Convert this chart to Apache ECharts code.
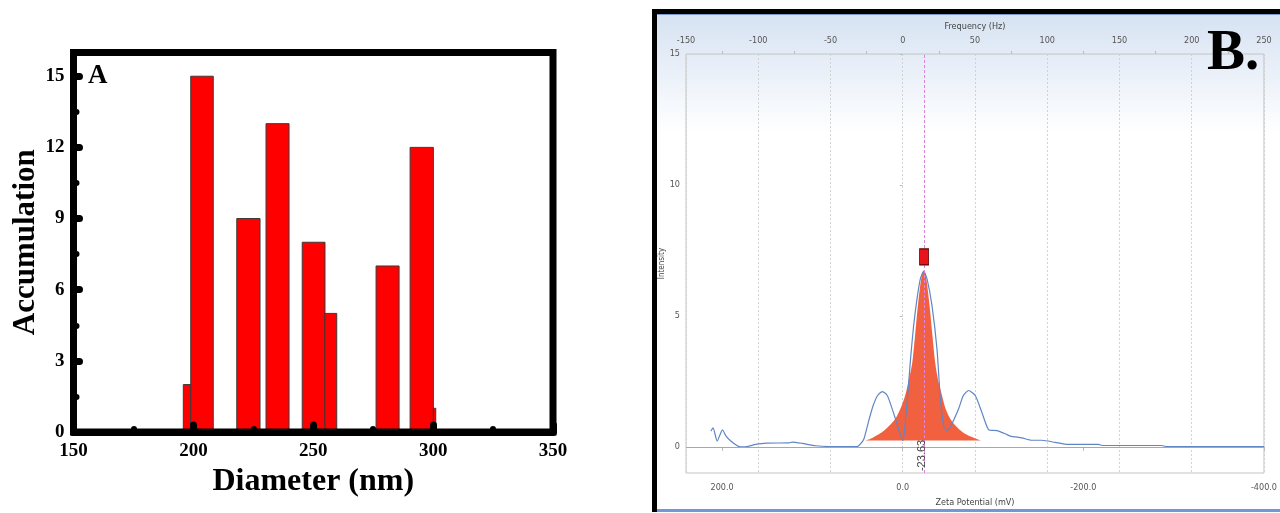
<!DOCTYPE html>
<html>
<head>
<meta charset="utf-8">
<script src="https://cdn.jsdelivr.net/npm/echarts@6/dist/echarts.min.js"></script>
<style>
html, body { margin: 0; padding: 0; background: #fff; }
#main { width: 1280px; height: 513px; }
</style>
</head>
<body>
<div id="main"></div>
<script>
// A: particle size histogram (bin edges in nm, counts)
var binStart = [195.8, 198.9, 218.1, 230.3, 245.4, 254.9, 276.2, 290.4, 300.1];
var binEnd   = [198.9, 208.3, 227.8, 239.9, 254.9, 259.8, 285.8, 300.1, 301.1];
var counts   = [2, 15, 9, 13, 8, 5, 7, 12, 1];
var diameterMinor = [175, 225, 275, 325];
var countTicks = [0, 3, 6, 9, 12, 15];
var countMinor = [1.5, 4.5, 7.5, 10.5, 13.5];

// B: zeta potential distribution
var zetaMv = [212.5, 210, 205.5, 199.6, 196, 190.4, 181.2, 175.7, 162.8, 151.7, 126, 122.3, 111.3, 96.5, 81.8, 50.4, 47, 43, 37.6, 33, 28, 22.8, 18, 15.5, 8.1, 3, -0.3,
  -3, -6, -9, -12, -15.8, -19.5, -23.2, -26.9, -32.4, -37.9, -41.7, -45.3, -49.1, -54, -61.9, -67, -72.9, -80.3, -87.6, -95, -104.3, -113.5, -119,
  -131.9, -143, -154, -168.7, -183.4, -216.6, -222, -286.6, -292, -400];
var intensity = [0.60, 0.72, 0.22, 0.65, 0.43, 0.22, 0.01, 0.0, 0.09, 0.14, 0.15, 0.18, 0.13, 0.04, 0.01, 0.01, 0.10, 0.30, 1.0, 1.55, 1.95, 2.11, 2.0, 1.83, 1.07, 0.5, 0.24,
  1.0, 2.2, 3.5, 4.6, 5.65, 6.41, 6.71, 6.41, 5.39, 3.74, 1.83, 0.81, 0.62, 0.85, 1.45, 1.95, 2.15, 1.96, 1.32, 0.66, 0.62, 0.50, 0.41,
  0.34, 0.25, 0.25, 0.17, 0.09, 0.09, 0.05, 0.05, 0.01, 0.01];
var peakMv  = [41, 35, 28, 22, 15, 8, 2, -3, -7, -10.5, -13.5, -16.5, -19.5, -21.5, -23.2, -25, -27, -30, -33, -36, -39.5, -43.5, -47, -50.8, -55, -61.9, -68, -76.6, -82, -87];
var peakVal = [0.24, 0.32, 0.45, 0.58, 0.80, 1.08, 1.50, 2.00, 2.60, 3.20, 4.20, 5.30, 6.20, 6.60, 6.71, 6.60, 6.20, 5.30, 4.20, 3.20, 2.50, 1.96, 1.50, 1.19, 0.95, 0.69, 0.52, 0.37, 0.30, 0.24];
var peakBase = 0.24;
var peakMean = -23.63;
var markerTop = 7.25;
var zetaTicks = [-400, -200, 0, 200];
var intensityTicks = [0, 5, 10, 15];

var serif = 'Liberation Serif';
var narrow = '"DejaVu Sans Condensed", "Liberation Sans", sans-serif';

var bars = binStart.map(function (s, i) { return [s, binEnd[i], counts[i]]; });
var curve = zetaMv.map(function (v, i) { return [v, intensity[i]]; });
var peak = peakMv.map(function (v, i) { return [v, peakVal[i]]; });

var chart = echarts.init(document.getElementById('main'));

var option = {
  animation: false,
  graphic: [
    // instrument window of panel B
    { type: 'rect', z: -100, shape: { x: 652, y: 9, width: 640, height: 503 }, style: { fill: '#000' } },
    { type: 'rect', z: -99, shape: { x: 657, y: 14, width: 630, height: 496 },
      style: { fill: new echarts.graphic.LinearGradient(0, 0, 0, 1, [
        { offset: 0, color: '#d6e2f2' }, { offset: 0.24, color: '#ffffff' }, { offset: 1, color: '#ffffff' }]) } },
    { type: 'rect', z: -98, shape: { x: 657, y: 14, width: 630, height: 1 }, style: { fill: '#7d9bd0' } },
    { type: 'rect', z: -98, shape: { x: 657, y: 509, width: 630, height: 3 }, style: { fill: '#7396d8' } },
    { type: 'text', x: 88, y: 76, style: { text: 'A', font: 'bold 27px ' + serif, fill: '#000', verticalAlign: 'middle' } },
    { type: 'text', x: 1207, y: 54, style: { text: 'B.', font: 'bold 57px ' + serif, fill: '#000', verticalAlign: 'middle' } }
  ],
  grid: [
    { left: 73.5, right: 727, top: 52.5, bottom: 81, show: true, borderColor: '#000', borderWidth: 7, z: 5 },
    { left: 686, right: 12, top: 54, bottom: 40, show: true, borderColor: '#c4c4c4', borderWidth: 1 }
  ],
  xAxis: [
    {
      gridIndex: 0, type: 'value', min: 150, max: 350, interval: 50, z: 5,
      name: 'Diameter (nm)', nameLocation: 'middle', nameGap: 31,
      nameTextStyle: { fontFamily: serif, fontWeight: 'bold', fontSize: 32, color: '#000' },
      axisLine: { lineStyle: { color: '#000', width: 7 } },
      axisTick: { inside: true, length: 7, lineStyle: { color: '#000', width: 7, cap: 'round' } },
      axisLabel: { margin: 10, fontFamily: serif, fontWeight: 'bold', fontSize: 19, color: '#000' },
      splitLine: { show: false }
    },
    {
      gridIndex: 0, type: 'value', min: 150, max: 350, position: 'bottom', z: 5,
      axisLine: { show: false }, axisLabel: { show: false }, splitLine: { show: false },
      axisTick: { inside: true, length: 3, customValues: diameterMinor, lineStyle: { color: '#000', width: 6, cap: 'round' } }
    },
    {
      gridIndex: 1, type: 'value', min: -400, max: 240, inverse: true, position: 'bottom',
      name: 'Zeta Potential (mV)', nameLocation: 'middle', nameGap: 25,
      nameTextStyle: { fontFamily: narrow, fontSize: 9, color: '#444' },
      axisLine: { show: false },
      axisTick: { customValues: zetaTicks, length: 4, lineStyle: { color: '#bbb' } },
      axisLabel: { customValues: zetaTicks, margin: 10, fontFamily: narrow, fontSize: 9, color: '#555',
        formatter: function (v) { return v.toFixed(1); } },
      splitLine: { show: false }
    },
    {
      gridIndex: 1, type: 'value', min: -150, max: 250, interval: 50, position: 'top',
      name: 'Frequency (Hz)', nameLocation: 'middle', nameGap: 22,
      nameTextStyle: { fontFamily: narrow, fontSize: 9, color: '#444' },
      axisLine: { show: false },
      axisTick: { show: false },
      minorTick: { show: true, splitNumber: 2, length: 3, lineStyle: { color: '#bbb' } },
      axisLabel: { margin: 9, fontFamily: narrow, fontSize: 9, color: '#555' },
      splitLine: { show: true, lineStyle: { color: '#d2d2d2', type: [2, 2] } }
    }
  ],
  yAxis: [
    {
      gridIndex: 0, type: 'value', min: 0, max: 16, z: 5,
      name: 'Accumulation', nameLocation: 'middle', nameGap: 27,
      nameTextStyle: { fontFamily: serif, fontWeight: 'bold', fontSize: 31, color: '#000' },
      axisLine: { lineStyle: { color: '#000', width: 7 } },
      axisTick: { inside: true, length: 6, customValues: countTicks, lineStyle: { color: '#000', width: 7, cap: 'round' } },
      axisLabel: { customValues: countTicks, margin: 9, fontFamily: serif, fontWeight: 'bold', fontSize: 19, color: '#000' },
      splitLine: { show: false }
    },
    {
      gridIndex: 0, type: 'value', min: 0, max: 16, position: 'left', z: 5,
      axisLine: { show: false }, axisLabel: { show: false }, splitLine: { show: false },
      axisTick: { inside: true, length: 3, customValues: countMinor, lineStyle: { color: '#000', width: 6, cap: 'round' } }
    },
    {
      gridIndex: 1, type: 'value', min: -1, max: 15,
      name: 'Intensity', nameLocation: 'middle', nameGap: 13,
      nameTextStyle: { fontFamily: narrow, fontSize: 8, color: '#444' },
      axisLine: { show: false },
      axisTick: { customValues: intensityTicks, length: 3, lineStyle: { color: '#bbb' } },
      axisLabel: { customValues: intensityTicks, margin: 6, fontFamily: narrow, fontSize: 9, color: '#555' },
      splitLine: { show: false }
    }
  ],
  series: [
    {
      type: 'custom', xAxisIndex: 0, yAxisIndex: 0, data: bars,
      encode: { x: [0, 1], y: 2 },
      renderItem: function (params, api) {
        var p0 = api.coord([api.value(0), api.value(2)]);
        var p1 = api.coord([api.value(1), 0]);
        return {
          type: 'rect',
          shape: { x: p0[0], y: p0[1], width: p1[0] - p0[0], height: p1[1] - p0[1] },
          style: { fill: '#ff0000', stroke: '#3a3a3a', lineWidth: 1 }
        };
      }
    },
    {
      type: 'line', xAxisIndex: 2, yAxisIndex: 2, data: peak, symbol: 'none', smooth: 0.3,
      lineStyle: { width: 0, opacity: 0 },
      areaStyle: { color: '#f2613f', opacity: 1, origin: peakBase },
      markLine: {
        silent: true, symbol: 'none', label: { show: false },
        lineStyle: { color: '#e080e0', type: [3, 2], width: 1 },
        data: [{ xAxis: peakMean }]
      },
      markPoint: {
        silent: true,
        data: [
          { coord: [peakMean, markerTop], symbol: 'rect', symbolSize: [9, 16],
            itemStyle: { color: '#e8141c', borderColor: '#5a0000', borderWidth: 1 }, label: { show: false } },
          { coord: [peakMean, -0.33], symbol: 'rect', symbolSize: 0,
            label: { show: true, position: 'inside', formatter: String(peakMean), rotate: 90, offset: [0, -2],
              fontFamily: 'Liberation Sans', fontSize: 11, color: '#444' } }
        ]
      }
    },
    {
      type: 'line', xAxisIndex: 2, yAxisIndex: 2, data: curve, symbol: 'none', smooth: 0.2,
      lineStyle: { color: '#5f86c4', width: 1.2 },
      markLine: {
        silent: true, symbol: 'none', label: { show: false },
        lineStyle: { color: '#a8a8a8', type: 'solid', width: 1 },
        data: [{ yAxis: 0 }]
      }
    }
  ]
};

chart.setOption(option);
</script>
</body>
</html>
